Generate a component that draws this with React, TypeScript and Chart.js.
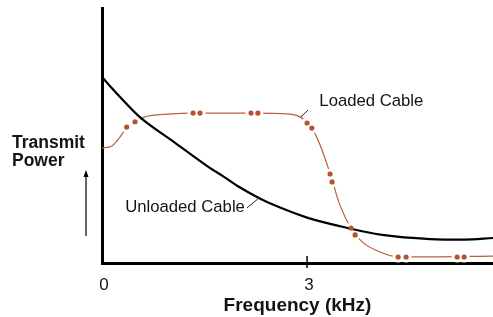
import React, { useEffect, useRef } from "react";
import { Chart, registerables } from "chart.js";

Chart.register(...registerables);

// ---- data (x in kHz, y = relative transmit power 0..100) ----
const unloadedX = [0, 0.25, 0.55, 1.05, 1.55, 1.79, 2.02, 2.31, 2.5, 3.0, 3.6, 4.1, 4.8, 5.3, 5.72];
const unloadedY = [72.9, 65.5, 57.3, 47.5, 37.8, 33.7, 29.6, 25.3, 22.9, 17.8, 13.7, 11.0, 9.4, 9.2, 9.8];

const loadedX = [0, 0.146, 0.263, 0.366, 0.483, 0.629, 0.966, 1.36, 2.17, 2.75, 2.9, 3.0, 3.07, 3.19, 3.34, 3.48, 3.66, 3.81, 4.0, 4.33, 4.8, 5.72];
const loadedY = [45.1, 45.9, 49.4, 53.3, 55.3, 57.3, 58.4, 58.8, 58.8, 58.4, 57.3, 54.9, 52.9, 46.3, 34.9, 22.7, 12.9, 8.2, 5.1, 2.4, 2.4, 2.7];

const dotX = [0.361, 0.483, 1.332, 1.434, 2.18, 2.28, 3.0, 3.07, 3.337, 3.366, 3.644, 3.703, 4.332, 4.449, 5.195, 5.298];
const dotY = [53.3, 55.4, 58.8, 58.8, 58.8, 58.8, 54.9, 52.9, 34.9, 31.8, 13.7, 11.0, 2.35, 2.35, 2.35, 2.35];

const xTicks = [0, 3];
const xTitle = "Frequency (kHz)";
const yTitleLines = ["Transmit", "Power"];
const loadedLabel = "Loaded Cable";
const unloadedLabel = "Unloaded Cable";

const FONT = '"Liberation Sans", Arial, Helvetica, sans-serif';
const ORANGE = "#b9613b";
const DOT = "#b4532e";
const INK = "#141414";

const zip = (xs: number[], ys: number[]) => xs.map((x, i) => ({ x, y: ys[i] }));

const annotate = {
  id: "annotate",
  afterDraw(chart: any) {
    const { ctx, chartArea, scales } = chart;
    const x = scales.x;
    const y = scales.y;
    ctx.save();
    // tick mark at 3 kHz crossing the axis
    const tx = x.getPixelForValue(3);
    ctx.strokeStyle = "#000";
    ctx.lineWidth = 1.5;
    ctx.beginPath();
    ctx.moveTo(tx, chartArea.bottom - 7);
    ctx.lineTo(tx, chartArea.bottom + 5);
    ctx.stroke();

    // leader lines
    ctx.lineWidth = 1;
    ctx.strokeStyle = "#222";
    ctx.beginPath();
    ctx.moveTo(x.getPixelForValue(2.91), y.getPixelForValue(57.3));
    ctx.lineTo(x.getPixelForValue(3.015), y.getPixelForValue(60.0));
    ctx.moveTo(x.getPixelForValue(2.12), y.getPixelForValue(21.6));
    ctx.lineTo(x.getPixelForValue(2.28), y.getPixelForValue(25.1));
    ctx.stroke();

    // labels
    ctx.fillStyle = INK;
    ctx.textBaseline = "alphabetic";
    ctx.font = `16.7px ${FONT}`;
    ctx.textAlign = "left";
    ctx.fillText(loadedLabel, x.getPixelForValue(3.18), y.getPixelForValue(61.4));
    ctx.textAlign = "right";
    ctx.fillText(unloadedLabel, x.getPixelForValue(2.09), y.getPixelForValue(20.0));

    // y title (horizontal, two lines)
    ctx.textAlign = "left";
    ctx.font = `bold 17.5px ${FONT}`;
    ctx.fillText(yTitleLines[0], 12, 148);
    ctx.fillText(yTitleLines[1], 12, 166);

    // arrow
    const ax = chartArea.left - 16;
    const aTop = y.getPixelForValue(36.5);
    const aBot = y.getPixelForValue(10.6);
    ctx.strokeStyle = "#000";
    ctx.lineWidth = 1.2;
    ctx.beginPath();
    ctx.moveTo(ax, aBot);
    ctx.lineTo(ax, aTop + 5);
    ctx.stroke();
    ctx.fillStyle = "#000";
    ctx.beginPath();
    ctx.moveTo(ax, aTop);
    ctx.lineTo(ax - 2.5, aTop + 7);
    ctx.lineTo(ax + 2.5, aTop + 7);
    ctx.closePath();
    ctx.fill();
    ctx.restore();
  },
};

export default function App() {
  const ref = useRef<HTMLCanvasElement | null>(null);
  useEffect(() => {
    if (!ref.current) return;
    const chart = new Chart(ref.current, {
      type: "scatter",
      data: {
        datasets: [
          {
            label: "dots",
            data: zip(dotX, dotY),
            showLine: false,
            pointRadius: 2.6,
            pointBackgroundColor: DOT,
            pointBorderWidth: 0,
            order: 0,
          },
          {
            label: "Unloaded Cable",
            data: zip(unloadedX, unloadedY),
            showLine: true,
            borderColor: "#000",
            borderWidth: 2.2,
            pointRadius: 0,
            cubicInterpolationMode: "monotone",
            order: 1,
          },
          {
            label: "gaps",
            data: zip(dotX, dotY),
            showLine: false,
            pointRadius: 5.5,
            pointBackgroundColor: "#fff",
            pointBorderWidth: 0,
            order: 2,
          },
          {
            label: "Loaded Cable",
            data: zip(loadedX, loadedY),
            showLine: true,
            borderColor: ORANGE,
            borderWidth: 1.2,
            pointRadius: 0,
            cubicInterpolationMode: "monotone",
            order: 3,
          },
        ],
      },
      options: {
        animation: false,
        responsive: false,
        events: [],
        layout: { autoPadding: false, padding: { left: 102, top: 8, right: 0, bottom: 0 } },
        plugins: { legend: { display: false }, tooltip: { enabled: false } },
        scales: {
          x: {
            type: "linear",
            min: 0,
            max: 5.72,
            afterBuildTicks: (s: any) => {
              s.ticks = xTicks.map((v) => ({ value: v }));
            },
            afterFit: (s: any) => {
              s.height = 54;
              s.paddingLeft = 0;
              s.paddingRight = 0;
            },
            ticks: {
              autoSkip: false,
              maxRotation: 0,
              padding: 12,
              labelOffset: 2,
              color: INK,
              font: { family: FONT, size: 17 },
            },
            grid: { display: true, drawOnChartArea: false, drawTicks: false },
            border: { display: true, color: "#000", width: 3 },
            title: {
              display: true,
              text: xTitle,
              color: INK,
              font: { family: FONT, size: 19, weight: "bold" },
              padding: { top: 0, bottom: 0 },
            },
          },
          y: {
            type: "linear",
            min: 0,
            max: 100,
            afterFit: (s: any) => {
              s.width = 0;
            },
            ticks: { display: false },
            grid: { display: true, drawOnChartArea: false, drawTicks: false },
            border: { display: true, color: "#000", width: 3 },
          },
        },
      },
      plugins: [annotate],
    });
    return () => chart.destroy();
  }, []);
  return (
    <div style={{ position: "fixed", left: 0, top: 0, width: 493, height: 317, background: "#fff" }}>
      <canvas ref={ref} width={493} height={317} style={{ display: "block" }} />
    </div>
  );
}
